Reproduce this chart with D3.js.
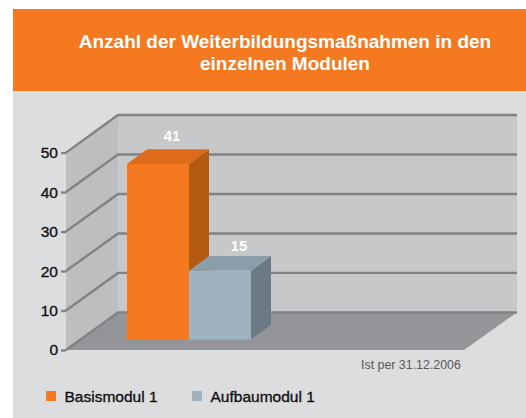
<!DOCTYPE html>
<html>
<head>
<meta charset="UTF-8">
<script src="https://cdn.jsdelivr.net/npm/d3@7/dist/d3.min.js"></script>
<style>
html, body { margin: 0; padding: 0; background: #fff; }
svg { display: block; }
text { font-family: "Liberation Sans", Arial, sans-serif; }
.axis path { display: none; }
.axis line { stroke: #808285; stroke-width: 2.4; }
.axis text { font-size: 15.5px; fill: #111; stroke: #111; stroke-width: 0.35px; }
</style>
</head>
<body>
<script>

// data
var categories = ["Basismodul 1", "Aufbaumodul 1"];
var values = [41, 15];
var ticks = [0, 10, 20, 30, 40, 50];
var titleLines = ["Anzahl der Weiterbildungsmaßnahmen in den", "einzelnen Modulen"];
var note = "Ist per 31.12.2006";

var frontColors = ["#f47920", "#9fb2bf"];
var topColors = ["#dd6b1a", "#8a9eaa"];
var sideColors = ["#b35a10", "#6b7a84"];

var width = 526;
var height = 418;

var svg = d3.select("body").append("svg")
    .attr("width", width)
    .attr("height", height);

// panel and header
svg.append("rect").attr("x", 13).attr("y", 91).attr("width", width - 13).attr("height", height - 91).attr("fill", "#dcddde");
svg.append("rect").attr("x", 13).attr("y", 9).attr("width", width - 13).attr("height", 82).attr("fill", "#f47920");

svg.selectAll(".title")
    .data(titleLines)
    .enter().append("text")
    .attr("class", "title")
    .attr("x", 285)
    .attr("y", function(d, i) { return 48 + i * 22; })
    .attr("text-anchor", "middle")
    .attr("font-size", 19)
    .attr("font-weight", "bold")
    .attr("fill", "#fff")
    .text(function(d) { return d; });

// front edge of the left wall, the back wall is shifted by depth
var y = d3.scaleLinear().domain([0, 50]).range([350, 152.6]);
var wallX = 66;
var depthX = 52;
var depthY = -37.6;
var wallRight = 517;
var floorRight = 464;

function poly(pts) { return "M" + pts.join("L") + "Z"; }

// side wall
svg.append("path")
    .attr("d", poly([[wallX, y(0)], [wallX, y(50)], [wallX + depthX, y(50) + depthY], [wallX + depthX, y(0) + depthY]]))
    .attr("fill", "#bcbec0");
// back wall
svg.append("rect")
    .attr("x", wallX + depthX)
    .attr("y", y(50) + depthY)
    .attr("width", wallRight - wallX - depthX)
    .attr("height", y(0) - y(50))
    .attr("fill", "#c7c8ca");
// floor
svg.append("path")
    .attr("d", poly([[wallX, y(0)], [wallX + depthX, y(0) + depthY], [wallRight, y(0) + depthY], [floorRight, y(0)]]))
    .attr("fill", "#939598");

// grid lines run along side wall and back wall
svg.selectAll(".grid")
    .data(ticks)
    .enter().append("path")
    .attr("class", "grid")
    .attr("fill", "none")
    .attr("stroke", "#808285")
    .attr("stroke-width", 2.4)
    .attr("d", function(d) {
        var line = d3.line();
        return line([[wallX, y(d)], [wallX + depthX, y(d) + depthY], [wallRight, y(d) + depthY]]);
    });

// axis
svg.append("g")
    .attr("class", "axis")
    .attr("transform", "translate(" + wallX + ",0)")
    .call(d3.axisLeft(y).tickValues(ticks).tickSize(5).tickPadding(3).tickFormat(d3.format("d")));

// bars, front face height is read on its own scale as the 3d bars stand in the floor
var x = d3.scaleBand().domain(categories).range([127, 251]).padding(0);
var barY = d3.scaleLinear().domain([0, 50]).range([332.2, 127]);
var labelY = d3.scaleLinear().domain([15, 41]).range([250.7, 140.7]);
var labelShift = [14, 19];
var barBase = 339.5;
var barDX = 20;
var barDY = -14.7;

var bars = svg.selectAll(".bar")
    .data(categories)
    .enter().append("g")
    .attr("class", "bar");

bars.append("path")
    .attr("fill", function(d, i) { return sideColors[i]; })
    .attr("d", function(d, i) {
        var r = x(d) + x.bandwidth();
        var t = barY(values[i]);
        return poly([[r, barBase], [r, t], [r + barDX, t + barDY], [r + barDX, barBase + barDY]]);
    });
bars.append("path")
    .attr("fill", function(d, i) { return topColors[i]; })
    .attr("d", function(d, i) {
        var l = x(d), r = l + x.bandwidth();
        var t = barY(values[i]);
        return poly([[l, t], [r, t], [r + barDX, t + barDY], [l + barDX, t + barDY]]);
    });
bars.append("rect")
    .attr("x", function(d) { return x(d); })
    .attr("y", function(d, i) { return barY(values[i]); })
    .attr("width", x.bandwidth())
    .attr("height", function(d, i) { return barBase - barY(values[i]); })
    .attr("fill", function(d, i) { return frontColors[i]; });
bars.append("text")
    .attr("x", function(d, i) { return x(d) + x.bandwidth() / 2 + labelShift[i]; })
    .attr("y", function(d, i) { return labelY(values[i]); })
    .attr("text-anchor", "middle")
    .attr("font-size", 14.7)
    .attr("font-weight", "bold")
    .attr("fill", "#fff")
    .text(function(d, i) { return values[i]; });

// note
svg.append("text")
    .attr("x", 361)
    .attr("y", 369)
    .attr("font-size", 12.4)
    .attr("fill", "#58595b")
    .text(note);

// legend
var legendX = [46, 192];
var legend = svg.selectAll(".legend")
    .data(categories)
    .enter().append("g")
    .attr("class", "legend")
    .attr("transform", function(d, i) { return "translate(" + legendX[i] + ",391)"; });
legend.append("rect")
    .attr("width", 10)
    .attr("height", 10)
    .attr("fill", function(d, i) { return frontColors[i]; });
legend.append("text")
    .attr("x", 18.5)
    .attr("y", 10.5)
    .attr("font-size", 15.5)
    .attr("fill", "#111")
    .attr("stroke", "#111")
    .attr("stroke-width", 0.35)
    .text(function(d) { return d; });

</script>
</body>
</html>
